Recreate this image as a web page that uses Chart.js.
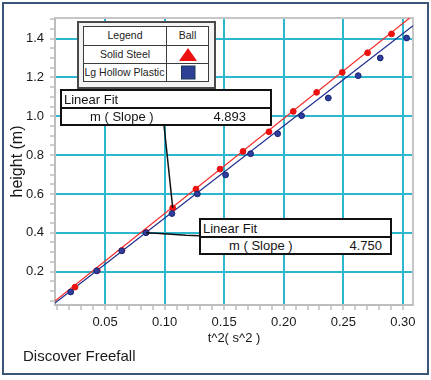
<!DOCTYPE html>
<html><head><meta charset="utf-8">
<script src="https://cdn.jsdelivr.net/npm/chart.js@4.4.1/dist/chart.umd.min.js"></script>
<style>
html,body{margin:0;padding:0;background:#fff;}
#wrap{position:relative;width:431px;height:380px;overflow:hidden;font-family:"Liberation Sans",Arial,sans-serif;color:#151515;}
#c{position:absolute;left:0;top:0;}
.frame{position:absolute;left:2px;top:2px;width:423px;height:369px;border:2px solid #3b5578;pointer-events:none;}
.fit{position:absolute;box-sizing:border-box;border:2px solid #111;background:#fff;height:37px;}
.fit .div{position:absolute;left:0;right:0;top:16px;height:2px;background:#111;}
.fit .t1{position:absolute;left:2px;top:0;line-height:17px;font-size:13px;white-space:nowrap;}
.fit .t2{position:absolute;left:28px;top:18px;line-height:15px;font-size:13px;white-space:nowrap;}
.fit .v{position:absolute;top:18px;line-height:15px;font-size:13px;white-space:nowrap;}
.leg{position:absolute;left:77px;top:21px;width:139px;height:68px;box-sizing:border-box;border:2px solid #4a4a4a;background:#f3f3f3;}
.cell{position:absolute;box-sizing:border-box;border:1.5px solid #3c3c3c;background:#fff;font-size:10.5px;text-align:center;white-space:nowrap;color:#222;}
.foot{position:absolute;left:23px;top:347px;font-size:15px;line-height:18px;color:#1a1a1a;white-space:nowrap;}
</style>
</head>
<body>
<div id="wrap">
<canvas id="c" width="431" height="380"></canvas>
<div class="leg"></div>
<div class="cell" style="left:83px;top:26px;width:84px;height:20px;line-height:17px;">Legend</div>
<div class="cell" style="left:166px;top:26px;width:43px;height:20px;line-height:17px;">Ball</div>
<div class="cell" style="left:83px;top:45px;width:84px;height:19px;line-height:16px;">Solid Steel</div>
<div class="cell" style="left:166px;top:45px;width:43px;height:19px;line-height:16px;">
<svg width="40" height="16" style="position:absolute;left:0;top:0"><polygon points="12,15 30,15 21,2" fill="#ee1111"/></svg></div>
<div class="cell" style="left:83px;top:63px;width:84px;height:19px;line-height:16px;text-align:left;padding-left:0.5px;">Lg Hollow Plastic</div>
<div class="cell" style="left:166px;top:63px;width:43px;height:19px;">
<svg width="40" height="16" style="position:absolute;left:0;top:0"><rect x="14.5" y="2" width="13.5" height="13" fill="#2e3f96" stroke="#1b3a5a" stroke-width="1"/></svg></div>

<div class="fit" style="left:60px;top:89px;width:212px;">
  <div class="t1">Linear Fit</div><div class="div"></div>
  <div class="t2" id="m1">m ( Slope )</div><div class="v" style="right:24px" id="s1"></div>
</div>
<div class="fit" style="left:199px;top:218px;width:193px;">
  <div class="t1">Linear Fit</div><div class="div"></div>
  <div class="t2">m ( Slope )</div><div class="v" style="right:8px" id="s2"></div>
</div>
<div class="foot">Discover Freefall</div>
<div class="frame"></div>
</div>
<script>
// ---- data ----
const steelT2       = [0.0248, 0.0435, 0.0642, 0.0846, 0.1068, 0.1263, 0.1465, 0.1658, 0.1876, 0.2080, 0.2276, 0.2491, 0.2704, 0.2905];
const steelHeight   = [0.120, 0.205, 0.309, 0.402, 0.528, 0.625, 0.728, 0.819, 0.920, 1.025, 1.123, 1.226, 1.327, 1.424];
const plasticT2     = [0.0212, 0.0430, 0.0640, 0.0844, 0.1062, 0.1275, 0.1512, 0.1722, 0.1949, 0.2150, 0.2374, 0.2625, 0.2810, 0.3031];
const plasticHeight = [0.095, 0.204, 0.307, 0.400, 0.499, 0.600, 0.698, 0.807, 0.910, 1.003, 1.094, 1.209, 1.300, 1.403];
const steelFitT2       = [0.008, 0.3085];
const steelFitHeight   = [0.048, 1.520];
const plasticFitT2     = [0.008, 0.3085];
const plasticFitHeight = [0.038, 1.466];
const fitSlopes = ['4.893', '4.750'];
const xMajorTicks = [0.05, 0.10, 0.15, 0.20, 0.25, 0.30];
const xTickLabels = ['0.05', '0.10', '0.15', '0.20', '0.25', '0.30'];
const yMajorTicks = [0.2, 0.4, 0.6, 0.8, 1.0, 1.2, 1.4];
const yTickLabels = ['0.2', '0.4', '0.6', '0.8', '1.0', '1.2', '1.4'];
const xMinorStep = 0.01, yMinorStep = 0.05;

document.getElementById('s1').textContent = fitSlopes[0];
document.getElementById('s2').textContent = fitSlopes[1];

const FONT = "'Liberation Sans', Arial, sans-serif";
Chart.defaults.font.family = FONT;
const CYAN = '#2cb7cf';
const near = (a, b) => Math.abs(a - b) < 1e-6;
const pts = (xs, ys) => xs.map((x, i) => ({x, y: ys[i]}));
function minorTicks(min, max, step) {
  const out = [];
  for (let k = Math.ceil(min / step - 1e-9); k * step <= max + 1e-9; k++) out.push({value: +(k * step).toFixed(4)});
  return out;
}

const overlay = {
  id: 'overlay',
  beforeDatasetsDraw(chart) {
    const {ctx, chartArea: a} = chart;
    ctx.save();
    ctx.strokeStyle = '#c6c6c6';
    ctx.lineWidth = 2;
    ctx.beginPath();
    ctx.moveTo(a.left, a.top); ctx.lineTo(a.right, a.top); ctx.lineTo(a.right, a.bottom);
    ctx.stroke();
    ctx.restore();
  },
  afterDatasetsDraw(chart) {
    const {ctx, scales: {x, y}} = chart;
    ctx.save();
    ctx.strokeStyle = '#111';
    ctx.lineWidth = 1.5;
    // leader 1: steel fit box -> steel point
    const p1x = x.getPixelForValue(steelT2[4]), p1y = y.getPixelForValue(steelHeight[4]);
    ctx.beginPath(); ctx.moveTo(164, 125); ctx.lineTo(p1x, p1y); ctx.stroke();
    // leader 2: plastic point -> plastic fit box
    const p2x = x.getPixelForValue(plasticT2[3]), p2y = y.getPixelForValue(plasticHeight[3]);
    ctx.beginPath(); ctx.moveTo(p2x, p2y); ctx.lineTo(160, p2y + 0.8); ctx.lineTo(186, p2y + 2.5); ctx.lineTo(200, p2y + 3); ctx.stroke();
    ctx.restore();
  }
};

new Chart(document.getElementById('c'), {
  type: 'scatter',
  data: {
    datasets: [
      {label: 'Lg Hollow Plastic', data: pts(plasticT2, plasticHeight), backgroundColor: '#2e3d9e', borderColor: '#1b2570', borderWidth: 1, pointRadius: 2.9, order: 1},
      {label: 'Solid Steel', data: pts(steelT2, steelHeight), backgroundColor: '#ee1111', borderColor: '#e51010', borderWidth: 1, pointRadius: 2.9, order: 2},
      {label: 'Lg Hollow Plastic fit', data: pts(plasticFitT2, plasticFitHeight), showLine: true, pointRadius: 0, borderColor: '#1f2d8f', borderWidth: 1.2, order: 3},
      {label: 'Solid Steel fit', data: pts(steelFitT2, steelFitHeight), showLine: true, pointRadius: 0, borderColor: '#f52a2a', borderWidth: 1.2, order: 4}
    ]
  },
  options: {
    responsive: false,
    animation: false,
    layout: {padding: {left: 0, right: 18, top: 18, bottom: 30}},
    plugins: {legend: {display: false}, tooltip: {enabled: false}},
    scales: {
      x: {
        type: 'linear', min: 0.008, max: 0.3085,
        afterBuildTicks(s) { s.ticks = minorTicks(0.008, 0.3085, xMinorStep); },
        afterFit(s) { s.height = 45; },
        ticks: {
          autoSkip: false, maxRotation: 0, padding: 5, color: '#1a1a1a', font: {size: 13},
          callback(v) { const i = xMajorTicks.findIndex(m => near(m, v)); return i >= 0 ? xTickLabels[i] : ''; }
        },
        grid: {
          color(c) { return c.tick && xMajorTicks.some(m => near(m, c.tick.value)) ? CYAN : 'rgba(0,0,0,0)'; },
          lineWidth: 2, tickColor: '#9c9c9c', tickLength: 5, tickWidth: 1
        },
        border: {display: true, color: '#bdbdbd', width: 2},
        title: {display: true, text: 't^2( s^2 )', color: '#151515', font: {size: 13}, padding: {top: 0, bottom: 4}}
      },
      y: {
        type: 'linear', min: 0.028, max: 1.506,
        afterBuildTicks(s) { s.ticks = minorTicks(0.028, 1.506, yMinorStep); },
        afterFit(s) { s.width = 55; },
        ticks: {
          autoSkip: false, padding: 6, color: '#1a1a1a', font: {size: 13},
          callback(v) { const i = yMajorTicks.findIndex(m => near(m, v)); return i >= 0 ? yTickLabels[i] : ''; }
        },
        grid: {
          color(c) { return c.tick && yMajorTicks.some(m => near(m, c.tick.value)) ? CYAN : 'rgba(0,0,0,0)'; },
          lineWidth: 2, tickColor: '#9c9c9c', tickLength: 5, tickWidth: 1
        },
        border: {display: true, color: '#bdbdbd', width: 2},
        title: {display: true, text: 'height (m)', color: '#151515', font: {size: 16}, padding: {top: 8, bottom: 0}}
      }
    }
  },
  plugins: [overlay]
});
</script>
</body></html>
